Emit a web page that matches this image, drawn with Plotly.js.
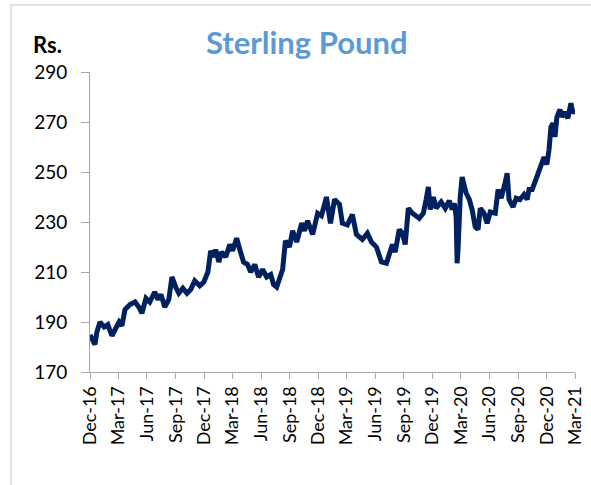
<!DOCTYPE html>
<html>
<head>
<meta charset="utf-8">
<script src="https://cdn.plot.ly/plotly-3.0.1.min.js"></script>
<style>html,body{margin:0;padding:0;background:#fff;}#chart{width:591px;height:485px;}</style>
</head>
<body>
<div id="chart"></div>
<script>
var dates = ["2016-12-01","2016-12-10","2016-12-17","2016-12-23","2017-01-02","2017-01-15","2017-01-27","2017-02-09","2017-02-22","2017-03-04",
"2017-03-13","2017-03-23","2017-04-08","2017-04-24","2017-05-06","2017-05-16","2017-05-29","2017-06-10","2017-06-26","2017-07-06",
"2017-07-16","2017-07-28","2017-08-10","2017-08-20","2017-09-01","2017-09-11","2017-09-24","2017-10-07","2017-10-19","2017-11-01",
"2017-11-17","2017-11-30","2017-12-13","2017-12-22","2018-01-01","2018-01-07","2018-01-17","2018-01-26","2018-02-08","2018-02-21",
"2018-03-02","2018-03-15","2018-03-25","2018-04-06","2018-04-19","2018-04-29","2018-05-12","2018-05-24","2018-06-06","2018-06-19",
"2018-07-02","2018-07-11","2018-07-21","2018-07-30","2018-08-09","2018-08-18","2018-08-31","2018-09-10","2018-09-23","2018-10-09",
"2018-10-18","2018-10-28","2018-11-13","2018-11-29","2018-12-11","2018-12-21","2018-12-27","2019-01-09","2019-01-22","2019-02-07",
"2019-02-16","2019-03-04","2019-03-20","2019-04-02","2019-04-21","2019-05-07","2019-05-20","2019-06-05","2019-06-21","2019-07-07",
"2019-07-16","2019-07-26","2019-08-04","2019-08-17","2019-08-27","2019-09-05","2019-09-15","2019-09-28","2019-10-20","2019-11-02",
"2019-11-11","2019-11-18","2019-11-24","2019-12-04","2019-12-13","2019-12-29","2020-01-11","2020-01-24","2020-02-02","2020-02-09",
"2020-02-15","2020-02-18","2020-02-21","2020-02-28","2020-03-05","2020-03-18","2020-03-28","2020-04-06","2020-04-16","2020-04-25",
"2020-05-02","2020-05-14","2020-05-24","2020-06-03","2020-06-19","2020-06-28","2020-07-08","2020-07-20","2020-07-27","2020-08-02",
"2020-08-15","2020-08-25","2020-09-06","2020-09-19","2020-09-29","2020-10-05","2020-10-15","2020-10-27","2020-11-09","2020-11-22",
"2020-12-01","2020-12-08","2020-12-14","2020-12-21","2020-12-27","2021-01-02","2021-01-12","2021-01-18","2021-01-28","2021-02-06",
"2021-02-16","2021-02-22","2021-03-01"];

var rates = [184.8,183,181,186,190,188,189,184.5,188,190,
188.5,195,197,198,196,193.5,199.5,198,202,199,
201,196,199,208,204,201.5,203.5,201.5,203,206.5,
204.5,206,210,218.5,216,219,214,218,216,221,
218.5,223.5,219,214,213,210,213,208,211,208,
209,205,204,207,211,222.5,220,226.5,222,229.5,
226.5,230.5,225,233.5,232.5,237,240,229.5,239,237,
229.5,228.8,233,225,223,225.5,222,220,214,213.5,
217,221,218,227,225.5,221,235.5,233.5,231.5,233.5,
239,244,235,240,235.5,238,235.5,238.5,235,237.5,
232,213.5,219,240,248,241.5,239,235,228,227,
235.5,233.5,229.5,234,233.5,243,239.5,245.5,249.5,239,
236,239.5,239,241,239,243,243,247,251,256,
253,259,268,269.5,264,272,275,272,274,271.5,
277.5,273.5,275];

var chartTitle = "Sterling Pound";
var unitLabel = "Rs.";
var yTicks = [170,190,210,230,250,270,290];

var trace = {
  x: dates, y: rates, type: "scatter", mode: "lines",
  line: {color: "#002060", width: 5},
  hoverinfo: "skip"
};

var font = "Lato, 'Open Sans', sans-serif";

var layout = {
  width: 591, height: 485,
  margin: {l: 90, r: 16, t: 72, b: 113},
  paper_bgcolor: "#ffffff", plot_bgcolor: "#ffffff",
  showlegend: false,
  title: {text: chartTitle, font: {family: font, size: 31, color: "#5B9BD5", weight: "bold"},
          x: 0.519, xref: "container", xanchor: "center", y: 0.911, yref: "container", yanchor: "middle"},
  xaxis: {
    type: "date", range: ["2016-12-01", "2021-03-01"],
    tick0: "2016-12-01", dtick: "M3", tickformat: "%b-%y",
    tickangle: -90, ticks: "outside", ticklen: 6, tickcolor: "#a6a6a6", tickwidth: 1,
    showline: true, linecolor: "#a6a6a6", linewidth: 1,
    showgrid: false, zeroline: false,
    tickfont: {family: font, size: 18, color: "#000000"}
  },
  yaxis: {
    range: [170, 290], tickvals: yTicks, ticktext: yTicks.map(String),
    ticks: "outside", ticklen: 8, tickcolor: "#a6a6a6", tickwidth: 1,
    showline: true, linecolor: "#a6a6a6", linewidth: 1,
    showgrid: false, zeroline: false, ticklabelstandoff: 10,
    tickfont: {family: font, size: 19, color: "#000000"}
  },
  annotations: [{
    text: "<b>" + unitLabel + "</b>", xref: "paper", yref: "paper",
    x: (47.5 - 90) / 485, y: (372 - 44) / 300, xanchor: "center", yanchor: "middle",
    showarrow: false, font: {family: font, size: 22, color: "#000000"}
  }],
  shapes: [{
    type: "rect", xref: "paper", yref: "paper",
    x0: (11 - 90) / 485, x1: (600 - 90) / 485, y0: (372 - 495) / 300, y1: (372 - 5) / 300,
    line: {color: "#d9d9d9", width: 1.5}, fillcolor: "rgba(0,0,0,0)", layer: "below"
  }]
};

Plotly.newPlot("chart", [trace], layout, {displayModeBar: false, staticPlot: true});
</script>
</body>
</html>
